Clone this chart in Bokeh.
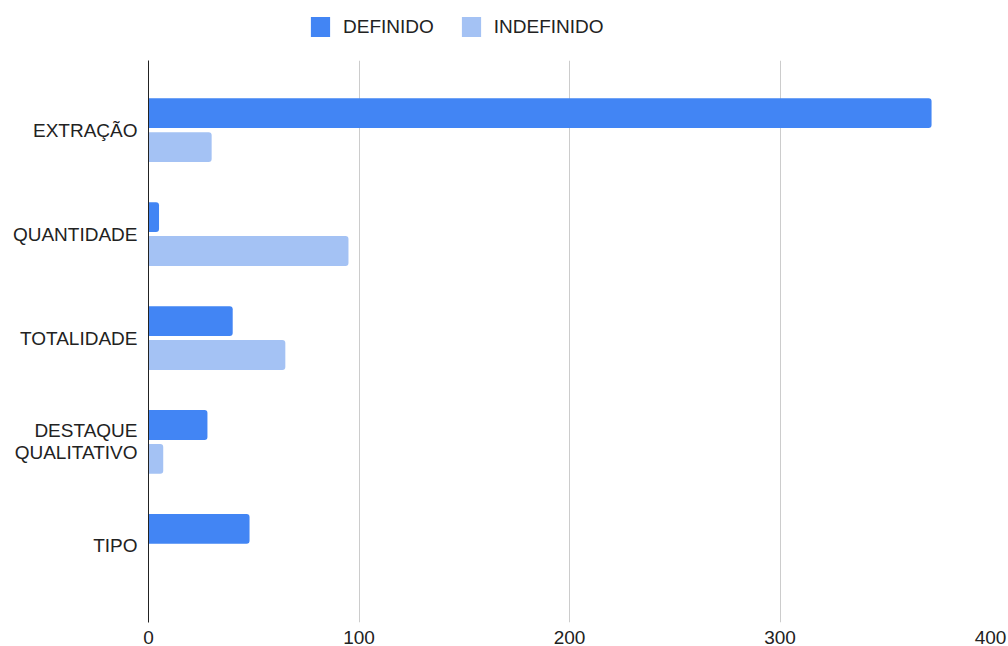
from bokeh.plotting import figure
from bokeh.layouts import column
from bokeh.models import Range1d, FixedTicker, Legend, LegendItem, ColumnDataSource
from bokeh.embed import file_html
from bokeh.resources import INLINE

categories = ["EXTRAÇÃO", "QUANTIDADE", "TOTALIDADE", "DESTAQUE\nQUALITATIVO", "TIPO"]
definido = [372, 5, 40, 28, 48]
indefinido = [30, 95, 65, 7, 0]
series_names = ["DEFINIDO", "INDEFINIDO"]
series_colors = ["#4285F4", "#A4C2F4"]
x_ticks = [0, 100, 200, 300, 400]

FONT = "Liberation Sans"
idx = list(range(len(categories)))
offset = 0.163
bar_h = 0.287

src = ColumnDataSource(dict(
    y_def=[i - offset for i in idx],
    y_ind=[i + offset for i in idx],
    definido=definido,
    indefinido=indefinido,
))

p = figure(width=1008, height=586, output_backend="svg", toolbar_location=None,
           x_range=Range1d(0, 400), y_range=Range1d(4.737, -0.670),
           min_border_left=148, min_border_right=18, min_border_top=0, min_border_bottom=21)
p.outline_line_color = None

bar_kw = dict(left=0, height=bar_h, source=src, line_color=None, border_radius=(0, 3, 3, 0))
p.hbar(y="y_def", right="definido", fill_color=series_colors[0], **bar_kw)
p.hbar(y="y_ind", right="indefinido", fill_color=series_colors[1], **bar_kw)

# x axis
p.xaxis.ticker = FixedTicker(ticks=x_ticks)
p.xaxis.axis_line_color = None
p.xaxis.major_tick_line_color = None
p.xaxis.minor_tick_line_color = None
p.xaxis.major_label_text_font = FONT
p.xaxis.major_label_text_font_size = "19px"
p.xaxis.major_label_text_color = "#222222"
p.xaxis.major_label_standoff = 2

# y axis
p.yaxis.ticker = FixedTicker(ticks=idx)
p.yaxis.major_label_overrides = {i: c for i, c in zip(idx, categories)}
p.yaxis.axis_line_color = "#222222"
p.yaxis.axis_line_width = 1
p.yaxis.major_tick_line_color = None
p.yaxis.minor_tick_line_color = None
p.yaxis.major_label_text_font = FONT
p.yaxis.major_label_text_font_size = "19px"
p.yaxis.major_label_text_color = "#222222"
p.yaxis.major_label_text_line_height = 1.05
p.yaxis.major_label_standoff = 5

p.xgrid.grid_line_color = "#cccccc"
p.xgrid.ticker = FixedTicker(ticks=x_ticks)
p.ygrid.grid_line_color = None

# legend strip (own small figure so the legend is not clipped)
lp = figure(width=1008, height=60, output_backend="svg", toolbar_location=None,
            x_range=Range1d(0, 400), y_range=Range1d(100, 101), min_border=0)
lp.outline_line_color = None
lp.axis.visible = False
lp.grid.visible = False
l1 = lp.hbar(y="y_def", right="definido", fill_color=series_colors[0], **bar_kw)
l2 = lp.hbar(y="y_ind", right="indefinido", fill_color=series_colors[1], **bar_kw)

legend = Legend(items=[LegendItem(label=series_names[0], renderers=[l1]),
                       LegendItem(label=series_names[1], renderers=[l2])],
                orientation="horizontal", location=(160, 21),
                padding=0, margin=0, spacing=25, label_standoff=11,
                glyph_width=24, glyph_height=25,
                label_text_font=FONT, label_text_font_size="19px", label_text_color="#222222",
                border_line_color=None, background_fill_alpha=0)
lp.add_layout(legend, "center")

layout = column(lp, p, spacing=0)
open("out.html", "w").write(file_html(layout, INLINE))
